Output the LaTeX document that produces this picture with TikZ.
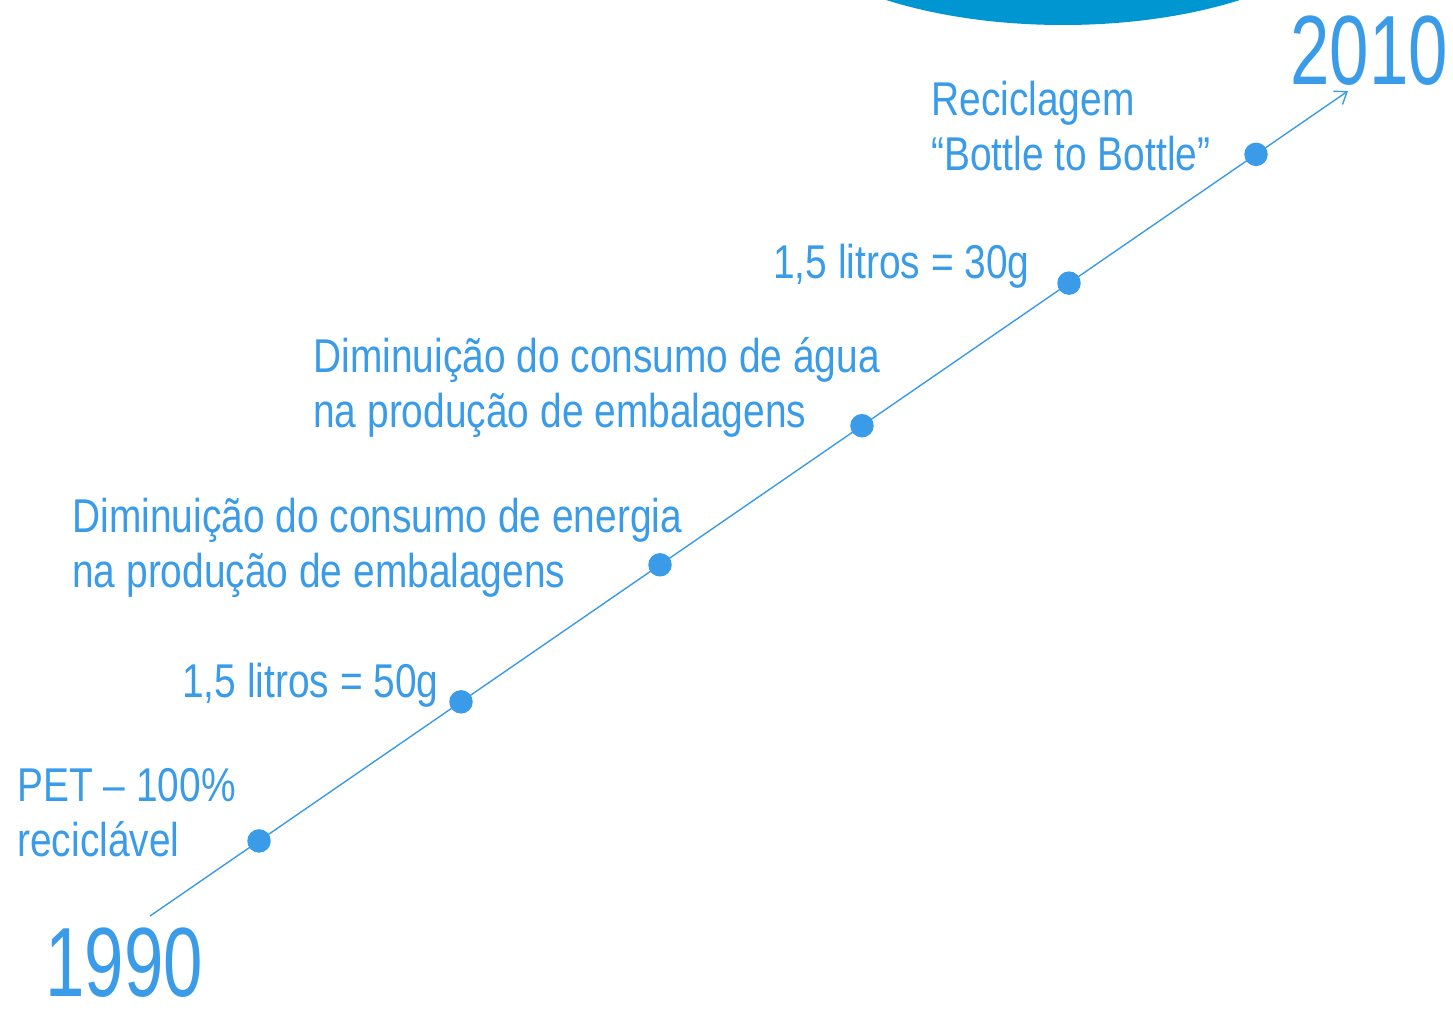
\documentclass[tikz,border=0pt]{standalone}
\usepackage{fontspec}
\setmainfont[FakeStretch=0.72]{Liberation Sans}
\newfontfamily\eventfont[FakeStretch=0.82,Ligatures=TeX]{Liberation Sans}
\usepackage{tikz}
\usetikzlibrary{calc,arrows.meta}

\definecolor{lineblue}{HTML}{3A9BE9}
\definecolor{capblue}{HTML}{0096D2}

\begin{document}
\begin{tikzpicture}[x=0.02cm,y=-0.02cm,
	dot/.style={circle, fill=lineblue, inner sep=0pt, minimum size=0.47cm},
	event/.style={text=lineblue, font=\eventfont\fontsize{27}{31}\selectfont, align=left, anchor=base west, inner sep=0pt},
	year/.style={text=lineblue, font=\fontsize{56}{58}\selectfont, anchor=base west, inner sep=0pt}]

	\useasboundingbox (0,0) rectangle (1453,1017);

	% ---- cap at the top

	\begin{scope}
		\clip (0,0) rectangle (1453,1017);
		\fill[capblue] (1063,-105) ellipse [x radius=300, y radius=130];
	\end{scope}

	% ---- time line

	\coordinate (S) at (150,916);
	\coordinate (E) at (1348,91);

	\draw[lineblue, line width=0.8pt, -{Straight Barb[length=2.2mm,width=3.2mm]}] (S) -- (E);

	\foreach \t [count=\i] in {0.091,0.2596,0.4257,0.5943,0.7671,0.9232} {
		\node[dot] (d\i) at ($(S)!\t!(E)$) {};
	}

	% ---- labels (base = last line)

	\node[year] (y1) at (45,996) {1990};
	\node[year] (y2) at (1290,85) {2010};

	\node[event] (t1) at (17,856) {PET – 100\%\\reciclável};
	\node[event] (t2) at (182,697) {1,5 litros = 50g};
	\node[event] (t3) at (72,587) {Diminuição do consumo de energia\\na produção de embalagens};
	\node[event] (t4) at (313,427) {Diminuição do consumo de água\\na produção de embalagens};
	\node[event] (t5) at (773,278) {1,5 litros = 30g};
	\node[event] (t6) at (931,170) {Reciclagem\\“Bottle to Bottle”};

\end{tikzpicture}
\end{document}
